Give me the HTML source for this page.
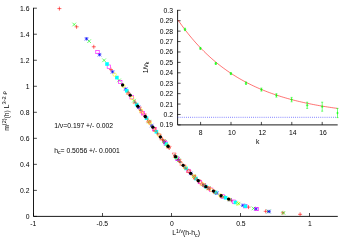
<!DOCTYPE html>
<html><head><meta charset="utf-8"><title>plot</title><style>html,body{margin:0;padding:0;background:#fff}body{width:350px;height:245px;overflow:hidden}</style></head><body>
<svg width="350" height="245" viewBox="0 0 350 245" style="display:block;opacity:0.999;will-change:transform;font-family:'Liberation Sans',sans-serif;font-size:6.8px;fill:#000">
<rect width="350" height="245" fill="#fff"/>
<path d="M33.5 7.799999999999999V216.4H337.8" stroke="#000" stroke-width="0.9" fill="none"/>
<path d="M33.5 216.40h3.4" stroke="#000" stroke-width="0.7"/>
<text x="29.5" y="218.90" text-anchor="end">0</text>
<path d="M33.5 190.38h3.4" stroke="#000" stroke-width="0.7"/>
<text x="29.5" y="192.88" text-anchor="end">0.2</text>
<path d="M33.5 164.35h3.4" stroke="#000" stroke-width="0.7"/>
<text x="29.5" y="166.85" text-anchor="end">0.4</text>
<path d="M33.5 138.32h3.4" stroke="#000" stroke-width="0.7"/>
<text x="29.5" y="140.82" text-anchor="end">0.6</text>
<path d="M33.5 112.30h3.4" stroke="#000" stroke-width="0.7"/>
<text x="29.5" y="114.80" text-anchor="end">0.8</text>
<path d="M33.5 86.28h3.4" stroke="#000" stroke-width="0.7"/>
<text x="29.5" y="88.78" text-anchor="end">1</text>
<path d="M33.5 60.25h3.4" stroke="#000" stroke-width="0.7"/>
<text x="29.5" y="62.75" text-anchor="end">1.2</text>
<path d="M33.5 34.22h3.4" stroke="#000" stroke-width="0.7"/>
<text x="29.5" y="36.72" text-anchor="end">1.4</text>
<path d="M33.5 8.20h3.4" stroke="#000" stroke-width="0.7"/>
<text x="29.5" y="10.70" text-anchor="end">1.6</text>
<path d="M33.50 216.4v-3.4" stroke="#000" stroke-width="0.7"/>
<text x="33.30" y="225.7" text-anchor="middle">-1</text>
<path d="M102.50 216.4v-3.4" stroke="#000" stroke-width="0.7"/>
<text x="102.30" y="225.7" text-anchor="middle">-0.5</text>
<path d="M171.50 216.4v-3.4" stroke="#000" stroke-width="0.7"/>
<text x="171.90" y="225.7" text-anchor="middle">0</text>
<path d="M240.50 216.4v-3.4" stroke="#000" stroke-width="0.7"/>
<text x="240.90" y="225.7" text-anchor="middle">0.5</text>
<path d="M309.50 216.4v-3.4" stroke="#000" stroke-width="0.7"/>
<text x="309.90" y="225.7" text-anchor="middle">1</text>
<text x="172.3" y="235.4">L<tspan dy="-2.6" font-size="5.2px">1/ν</tspan><tspan dy="2.6">(h-h</tspan><tspan dy="1.5" font-size="5.2px">c</tspan><tspan dy="-1.5">)</tspan></text>
<text transform="translate(9.0 130.8) rotate(-90)">m<tspan dy="-3" font-size="5.4px">(2)</tspan><tspan dy="3">(h) L</tspan><tspan dy="-3" font-size="5.8px">3-2 ρ</tspan></text>
<text x="54.2" y="127.5">1/ν=0.197 +/- 0.002</text>
<text x="54.2" y="152.7">h<tspan dy="1.5" font-size="5.2px">c</tspan><tspan dy="-1.5">= 0.5056 +/- 0.0001</tspan></text>
<path d="M57.40 8.60H61.40M59.40 6.60V10.60" stroke="#ff0000" stroke-width="0.6" fill="none"/>
<path d="M74.59 26.80H78.59M76.59 24.80V28.80" stroke="#ff0000" stroke-width="0.6" fill="none"/>
<path d="M91.79 46.79H95.79M93.79 44.79V48.79" stroke="#ff0000" stroke-width="0.6" fill="none"/>
<path d="M108.98 69.64H112.98M110.98 67.64V71.64" stroke="#ff0000" stroke-width="0.6" fill="none"/>
<path d="M126.17 92.72H130.17M128.17 90.72V94.72" stroke="#ff0000" stroke-width="0.6" fill="none"/>
<path d="M143.36 116.55H147.36M145.36 114.55V118.55" stroke="#ff0000" stroke-width="0.6" fill="none"/>
<path d="M160.56 139.59H164.56M162.56 137.59V141.59" stroke="#ff0000" stroke-width="0.6" fill="none"/>
<path d="M177.75 161.48H181.75M179.75 159.48V163.48" stroke="#ff0000" stroke-width="0.6" fill="none"/>
<path d="M194.94 179.54H198.94M196.94 177.54V181.54" stroke="#ff0000" stroke-width="0.6" fill="none"/>
<path d="M212.14 191.45H216.14M214.14 189.45V193.45" stroke="#ff0000" stroke-width="0.6" fill="none"/>
<path d="M229.33 200.43H233.33M231.33 198.43V202.43" stroke="#ff0000" stroke-width="0.6" fill="none"/>
<path d="M246.52 207.12H250.52M248.52 205.12V209.12" stroke="#ff0000" stroke-width="0.6" fill="none"/>
<path d="M263.71 211.31H267.71M265.71 209.31V213.31" stroke="#ff0000" stroke-width="0.6" fill="none"/>
<path d="M280.91 212.85H284.91M282.91 210.85V214.85" stroke="#ff0000" stroke-width="0.6" fill="none"/>
<path d="M298.10 214.30H302.10M300.10 212.30V216.30" stroke="#ff0000" stroke-width="0.6" fill="none"/>
<path d="M72.40 22.70L76.00 26.30M72.40 26.30L76.00 22.70" stroke="#00ff00" stroke-width="0.6" fill="none"/>
<path d="M87.34 39.37L90.94 42.97M87.34 42.97L90.94 39.37" stroke="#00ff00" stroke-width="0.6" fill="none"/>
<path d="M102.29 58.51L105.89 62.11M102.29 62.11L105.89 58.51" stroke="#00ff00" stroke-width="0.6" fill="none"/>
<path d="M117.23 78.59L120.83 82.19M117.23 82.19L120.83 78.59" stroke="#00ff00" stroke-width="0.6" fill="none"/>
<path d="M132.17 98.89L135.77 102.49M132.17 102.49L135.77 98.89" stroke="#00ff00" stroke-width="0.6" fill="none"/>
<path d="M147.11 119.82L150.71 123.42M147.11 123.42L150.71 119.82" stroke="#00ff00" stroke-width="0.6" fill="none"/>
<path d="M162.06 139.38L165.66 142.98M162.06 142.98L165.66 139.38" stroke="#00ff00" stroke-width="0.6" fill="none"/>
<path d="M177.00 158.59L180.60 162.19M177.00 162.19L180.60 158.59" stroke="#00ff00" stroke-width="0.6" fill="none"/>
<path d="M191.94 174.54L195.54 178.14M191.94 178.14L195.54 174.54" stroke="#00ff00" stroke-width="0.6" fill="none"/>
<path d="M206.89 186.51L210.49 190.11M206.89 190.11L210.49 186.51" stroke="#00ff00" stroke-width="0.6" fill="none"/>
<path d="M221.83 195.09L225.43 198.69M221.83 198.69L225.43 195.09" stroke="#00ff00" stroke-width="0.6" fill="none"/>
<path d="M236.77 201.89L240.37 205.49M236.77 205.49L240.37 201.89" stroke="#00ff00" stroke-width="0.6" fill="none"/>
<path d="M251.71 206.62L255.31 210.22M251.71 210.22L255.31 206.62" stroke="#00ff00" stroke-width="0.6" fill="none"/>
<path d="M266.66 209.67L270.26 213.27M266.66 213.27L270.26 209.67" stroke="#00ff00" stroke-width="0.6" fill="none"/>
<path d="M281.60 211.10L285.20 214.70M281.60 214.70L285.20 211.10" stroke="#00ff00" stroke-width="0.6" fill="none"/>
<path d="M84.75 38.80H88.25M86.50 37.05V40.55M84.75 37.05L88.25 40.55M84.75 40.55L88.25 37.05" stroke="#0000ff" stroke-width="0.6" fill="none"/>
<path d="M97.79 54.68H101.29M99.54 52.93V56.43M97.79 52.93L101.29 56.43M97.79 56.43L101.29 52.93" stroke="#0000ff" stroke-width="0.6" fill="none"/>
<path d="M110.82 71.87H114.32M112.57 70.12V73.62M110.82 70.12L114.32 73.62M110.82 73.62L114.32 70.12" stroke="#0000ff" stroke-width="0.6" fill="none"/>
<path d="M123.86 89.09H127.36M125.61 87.34V90.84M123.86 87.34L127.36 90.84M123.86 90.84L127.36 87.34" stroke="#0000ff" stroke-width="0.6" fill="none"/>
<path d="M136.89 107.37H140.39M138.64 105.62V109.12M136.89 105.62L140.39 109.12M136.89 109.12L140.39 105.62" stroke="#0000ff" stroke-width="0.6" fill="none"/>
<path d="M149.93 125.57H153.43M151.68 123.82V127.32M149.93 123.82L153.43 127.32M149.93 127.32L153.43 123.82" stroke="#0000ff" stroke-width="0.6" fill="none"/>
<path d="M162.96 142.22H166.46M164.71 140.47V143.97M162.96 140.47L166.46 143.97M162.96 143.97L166.46 140.47" stroke="#0000ff" stroke-width="0.6" fill="none"/>
<path d="M176.00 159.19H179.50M177.75 157.44V160.94M176.00 157.44L179.50 160.94M176.00 160.94L179.50 157.44" stroke="#0000ff" stroke-width="0.6" fill="none"/>
<path d="M189.04 173.39H192.54M190.79 171.64V175.14M189.04 171.64L192.54 175.14M189.04 175.14L192.54 171.64" stroke="#0000ff" stroke-width="0.6" fill="none"/>
<path d="M202.07 185.24H205.57M203.82 183.49V186.99M202.07 183.49L205.57 186.99M202.07 186.99L205.57 183.49" stroke="#0000ff" stroke-width="0.6" fill="none"/>
<path d="M215.11 193.17H218.61M216.86 191.42V194.92M215.11 191.42L218.61 194.92M215.11 194.92L218.61 191.42" stroke="#0000ff" stroke-width="0.6" fill="none"/>
<path d="M228.14 199.73H231.64M229.89 197.98V201.48M228.14 197.98L231.64 201.48M228.14 201.48L231.64 197.98" stroke="#0000ff" stroke-width="0.6" fill="none"/>
<path d="M241.18 205.31H244.68M242.93 203.56V207.06M241.18 203.56L244.68 207.06M241.18 207.06L244.68 203.56" stroke="#0000ff" stroke-width="0.6" fill="none"/>
<path d="M254.21 208.88H257.71M255.96 207.13V210.63M254.21 207.13L257.71 210.63M254.21 210.63L257.71 207.13" stroke="#0000ff" stroke-width="0.6" fill="none"/>
<path d="M267.25 211.50H270.75M269.00 209.75V213.25M267.25 209.75L270.75 213.25M267.25 213.25L270.75 209.75" stroke="#0000ff" stroke-width="0.6" fill="none"/>
<rect x="95.80" y="50.30" width="3.40" height="3.40" stroke="#ff00ff" stroke-width="0.6" fill="none"/>
<rect x="107.17" y="64.97" width="3.40" height="3.40" stroke="#ff00ff" stroke-width="0.6" fill="none"/>
<rect x="118.54" y="80.28" width="3.40" height="3.40" stroke="#ff00ff" stroke-width="0.6" fill="none"/>
<rect x="129.91" y="95.55" width="3.40" height="3.40" stroke="#ff00ff" stroke-width="0.6" fill="none"/>
<rect x="141.29" y="111.60" width="3.40" height="3.40" stroke="#ff00ff" stroke-width="0.6" fill="none"/>
<rect x="152.66" y="127.43" width="3.40" height="3.40" stroke="#ff00ff" stroke-width="0.6" fill="none"/>
<rect x="164.03" y="141.76" width="3.40" height="3.40" stroke="#ff00ff" stroke-width="0.6" fill="none"/>
<rect x="175.40" y="156.75" width="3.40" height="3.40" stroke="#ff00ff" stroke-width="0.6" fill="none"/>
<rect x="186.77" y="169.26" width="3.40" height="3.40" stroke="#ff00ff" stroke-width="0.6" fill="none"/>
<rect x="198.14" y="180.32" width="3.40" height="3.40" stroke="#ff00ff" stroke-width="0.6" fill="none"/>
<rect x="209.51" y="188.06" width="3.40" height="3.40" stroke="#ff00ff" stroke-width="0.6" fill="none"/>
<rect x="220.89" y="194.73" width="3.40" height="3.40" stroke="#ff00ff" stroke-width="0.6" fill="none"/>
<rect x="232.26" y="200.01" width="3.40" height="3.40" stroke="#ff00ff" stroke-width="0.6" fill="none"/>
<rect x="243.63" y="204.51" width="3.40" height="3.40" stroke="#ff00ff" stroke-width="0.6" fill="none"/>
<rect x="255.00" y="207.30" width="3.40" height="3.40" stroke="#ff00ff" stroke-width="0.6" fill="none"/>
<rect x="105.20" y="62.20" width="3.60" height="3.60" fill="#00ffff"/>
<rect x="115.08" y="75.77" width="3.60" height="3.60" fill="#00ffff"/>
<rect x="124.96" y="88.97" width="3.60" height="3.60" fill="#00ffff"/>
<rect x="134.84" y="102.78" width="3.60" height="3.60" fill="#00ffff"/>
<rect x="144.71" y="116.39" width="3.60" height="3.60" fill="#00ffff"/>
<rect x="154.59" y="129.96" width="3.60" height="3.60" fill="#00ffff"/>
<rect x="164.47" y="142.32" width="3.60" height="3.60" fill="#00ffff"/>
<rect x="174.35" y="155.56" width="3.60" height="3.60" fill="#00ffff"/>
<rect x="184.23" y="166.59" width="3.60" height="3.60" fill="#00ffff"/>
<rect x="194.11" y="176.71" width="3.60" height="3.60" fill="#00ffff"/>
<rect x="203.99" y="184.85" width="3.60" height="3.60" fill="#00ffff"/>
<rect x="213.86" y="190.62" width="3.60" height="3.60" fill="#00ffff"/>
<rect x="223.74" y="195.94" width="3.60" height="3.60" fill="#00ffff"/>
<rect x="233.62" y="200.62" width="3.60" height="3.60" fill="#00ffff"/>
<rect x="243.50" y="204.40" width="3.60" height="3.60" fill="#00ffff"/>
<circle cx="114.60" cy="74.60" r="1.70" stroke="#ffff00" stroke-width="0.6" fill="none"/>
<circle cx="123.41" cy="86.02" r="1.70" stroke="#ffff00" stroke-width="0.6" fill="none"/>
<circle cx="132.22" cy="98.12" r="1.70" stroke="#ffff00" stroke-width="0.6" fill="none"/>
<circle cx="141.02" cy="110.62" r="1.70" stroke="#ffff00" stroke-width="0.6" fill="none"/>
<circle cx="149.83" cy="122.93" r="1.70" stroke="#ffff00" stroke-width="0.6" fill="none"/>
<circle cx="158.64" cy="134.67" r="1.70" stroke="#ffff00" stroke-width="0.6" fill="none"/>
<circle cx="167.45" cy="145.56" r="1.70" stroke="#ffff00" stroke-width="0.6" fill="none"/>
<circle cx="176.26" cy="157.48" r="1.70" stroke="#ffff00" stroke-width="0.6" fill="none"/>
<circle cx="185.06" cy="167.37" r="1.70" stroke="#ffff00" stroke-width="0.6" fill="none"/>
<circle cx="193.87" cy="176.47" r="1.70" stroke="#ffff00" stroke-width="0.6" fill="none"/>
<circle cx="202.68" cy="184.32" r="1.70" stroke="#ffff00" stroke-width="0.6" fill="none"/>
<circle cx="211.49" cy="189.92" r="1.70" stroke="#ffff00" stroke-width="0.6" fill="none"/>
<circle cx="220.30" cy="195.34" r="1.70" stroke="#ffff00" stroke-width="0.6" fill="none"/>
<circle cx="229.10" cy="199.34" r="1.70" stroke="#ffff00" stroke-width="0.6" fill="none"/>
<circle cx="237.91" cy="203.44" r="1.70" stroke="#ffff00" stroke-width="0.6" fill="none"/>
<path d="M128.30 90.74L130.28 94.34H126.32Z" stroke="#ff4d00" stroke-width="0.45" fill="none"/>
<path d="M134.99 100.01L136.97 103.61H133.01Z" stroke="#ff4d00" stroke-width="0.45" fill="none"/>
<path d="M141.67 109.35L143.65 112.95H139.69Z" stroke="#ff4d00" stroke-width="0.45" fill="none"/>
<path d="M148.36 118.67L150.34 122.27H146.38Z" stroke="#ff4d00" stroke-width="0.45" fill="none"/>
<path d="M155.05 127.86L157.03 131.46H153.07Z" stroke="#ff4d00" stroke-width="0.45" fill="none"/>
<path d="M161.74 136.43L163.72 140.03H159.76Z" stroke="#ff4d00" stroke-width="0.45" fill="none"/>
<path d="M168.42 144.59L170.40 148.19H166.44Z" stroke="#ff4d00" stroke-width="0.45" fill="none"/>
<path d="M175.11 153.85L177.09 157.45H173.13Z" stroke="#ff4d00" stroke-width="0.45" fill="none"/>
<path d="M181.80 161.66L183.78 165.26H179.82Z" stroke="#ff4d00" stroke-width="0.45" fill="none"/>
<path d="M188.49 168.81L190.47 172.41H186.51Z" stroke="#ff4d00" stroke-width="0.45" fill="none"/>
<path d="M195.17 175.61L197.15 179.21H193.19Z" stroke="#ff4d00" stroke-width="0.45" fill="none"/>
<path d="M201.86 181.49L203.84 185.09H199.88Z" stroke="#ff4d00" stroke-width="0.45" fill="none"/>
<path d="M208.55 186.07L210.53 189.67H206.57Z" stroke="#ff4d00" stroke-width="0.45" fill="none"/>
<path d="M215.23 189.98L217.21 193.58H213.25Z" stroke="#ff4d00" stroke-width="0.45" fill="none"/>
<path d="M221.92 193.98L223.90 197.58H219.94Z" stroke="#ff4d00" stroke-width="0.45" fill="none"/>
<path d="M134.90 100.48L136.33 103.08H133.47Z" fill="#808080"/>
<path d="M140.57 108.44L142.00 111.04H139.14Z" fill="#808080"/>
<path d="M146.23 116.23L147.66 118.83H144.80Z" fill="#808080"/>
<path d="M151.90 124.32L153.33 126.92H150.47Z" fill="#808080"/>
<path d="M157.56 131.71L158.99 134.31H156.13Z" fill="#808080"/>
<path d="M163.23 138.85L164.66 141.45H161.80Z" fill="#808080"/>
<path d="M168.89 145.77L170.32 148.37H167.46Z" fill="#808080"/>
<path d="M174.56 153.52L175.99 156.12H173.13Z" fill="#808080"/>
<path d="M180.23 160.46L181.66 163.06H178.80Z" fill="#808080"/>
<path d="M185.89 166.68L187.32 169.28H184.46Z" fill="#808080"/>
<path d="M191.56 172.60L192.99 175.20H190.13Z" fill="#808080"/>
<path d="M197.22 178.26L198.65 180.86H195.79Z" fill="#808080"/>
<path d="M202.89 182.93L204.32 185.53H201.46Z" fill="#808080"/>
<path d="M208.55 186.68L209.98 189.28H207.12Z" fill="#808080"/>
<path d="M214.22 189.94L215.65 192.54H212.79Z" fill="#808080"/>
<path d="M139.40 110.56L141.38 106.96H137.42Z" stroke="#ff0000" stroke-width="0.42" fill="none"/>
<path d="M144.37 117.35L146.35 113.75H142.39Z" stroke="#ff0000" stroke-width="0.42" fill="none"/>
<path d="M149.34 124.39L151.32 120.79H147.36Z" stroke="#ff0000" stroke-width="0.42" fill="none"/>
<path d="M154.31 131.23L156.29 127.63H152.33Z" stroke="#ff0000" stroke-width="0.42" fill="none"/>
<path d="M159.28 137.65L161.26 134.05H157.30Z" stroke="#ff0000" stroke-width="0.42" fill="none"/>
<path d="M164.25 143.81L166.23 140.21H162.27Z" stroke="#ff0000" stroke-width="0.42" fill="none"/>
<path d="M169.21 149.88L171.19 146.28H167.23Z" stroke="#ff0000" stroke-width="0.42" fill="none"/>
<path d="M174.18 156.61L176.16 153.01H172.20Z" stroke="#ff0000" stroke-width="0.42" fill="none"/>
<path d="M179.15 162.96L181.13 159.36H177.17Z" stroke="#ff0000" stroke-width="0.42" fill="none"/>
<path d="M184.12 168.54L186.10 164.94H182.14Z" stroke="#ff0000" stroke-width="0.42" fill="none"/>
<path d="M189.09 173.77L191.07 170.17H187.11Z" stroke="#ff0000" stroke-width="0.42" fill="none"/>
<path d="M194.06 178.82L196.04 175.22H192.08Z" stroke="#ff0000" stroke-width="0.42" fill="none"/>
<path d="M199.03 183.52L201.01 179.92H197.05Z" stroke="#ff0000" stroke-width="0.42" fill="none"/>
<path d="M204.00 187.55L205.98 183.95H202.02Z" stroke="#ff0000" stroke-width="0.42" fill="none"/>
<path d="M208.97 190.63L210.95 187.03H206.99Z" stroke="#ff0000" stroke-width="0.42" fill="none"/>
<circle cx="122.60" cy="85.00" r="1.65" fill="#000000"/>
<circle cx="130.17" cy="95.21" r="1.65" fill="#000000"/>
<circle cx="137.74" cy="106.14" r="1.65" fill="#000000"/>
<circle cx="145.31" cy="116.48" r="1.65" fill="#000000"/>
<circle cx="152.88" cy="127.22" r="1.65" fill="#000000"/>
<circle cx="160.45" cy="137.00" r="1.65" fill="#000000"/>
<circle cx="168.02" cy="146.26" r="1.65" fill="#000000"/>
<circle cx="175.59" cy="156.71" r="1.65" fill="#000000"/>
<circle cx="183.16" cy="165.37" r="1.65" fill="#000000"/>
<circle cx="190.73" cy="173.33" r="1.65" fill="#000000"/>
<circle cx="198.30" cy="180.76" r="1.65" fill="#000000"/>
<circle cx="205.87" cy="186.70" r="1.65" fill="#000000"/>
<circle cx="213.44" cy="191.03" r="1.65" fill="#000000"/>
<circle cx="221.01" cy="195.73" r="1.65" fill="#000000"/>
<circle cx="228.58" cy="199.09" r="1.65" fill="#000000"/>
<path d="M177.6 9.9V124.9H337.7" stroke="#000" stroke-width="0.9" fill="none"/>
<path d="M177.6 124.90h3" stroke="#000" stroke-width="0.7"/>
<text x="173" y="127.40" text-anchor="end">0.19</text>
<path d="M177.6 114.48h3" stroke="#000" stroke-width="0.7"/>
<text x="173" y="116.98" text-anchor="end">0.2</text>
<path d="M177.6 104.06h3" stroke="#000" stroke-width="0.7"/>
<text x="173" y="106.56" text-anchor="end">0.21</text>
<path d="M177.6 93.65h3" stroke="#000" stroke-width="0.7"/>
<text x="173" y="96.15" text-anchor="end">0.22</text>
<path d="M177.6 83.23h3" stroke="#000" stroke-width="0.7"/>
<text x="173" y="85.73" text-anchor="end">0.23</text>
<path d="M177.6 72.81h3" stroke="#000" stroke-width="0.7"/>
<text x="173" y="75.31" text-anchor="end">0.24</text>
<path d="M177.6 62.39h3" stroke="#000" stroke-width="0.7"/>
<text x="173" y="64.89" text-anchor="end">0.25</text>
<path d="M177.6 51.97h3" stroke="#000" stroke-width="0.7"/>
<text x="173" y="54.47" text-anchor="end">0.26</text>
<path d="M177.6 41.55h3" stroke="#000" stroke-width="0.7"/>
<text x="173" y="44.05" text-anchor="end">0.27</text>
<path d="M177.6 31.14h3" stroke="#000" stroke-width="0.7"/>
<text x="173" y="33.64" text-anchor="end">0.28</text>
<path d="M177.6 20.72h3" stroke="#000" stroke-width="0.7"/>
<text x="173" y="23.22" text-anchor="end">0.29</text>
<path d="M177.6 10.30h3" stroke="#000" stroke-width="0.7"/>
<text x="173" y="12.80" text-anchor="end">0.3</text>
<path d="M200.60 124.9v-3" stroke="#000" stroke-width="0.7"/>
<text x="200.60" y="134.8" text-anchor="middle">8</text>
<path d="M231.00 124.9v-3" stroke="#000" stroke-width="0.7"/>
<text x="231.90" y="134.8" text-anchor="middle">10</text>
<path d="M261.40 124.9v-3" stroke="#000" stroke-width="0.7"/>
<text x="262.30" y="134.8" text-anchor="middle">12</text>
<path d="M291.80 124.9v-3" stroke="#000" stroke-width="0.7"/>
<text x="292.70" y="134.8" text-anchor="middle">14</text>
<path d="M322.20 124.9v-3" stroke="#000" stroke-width="0.7"/>
<text x="323.10" y="134.8" text-anchor="middle">16</text>
<text x="257.6" y="144.4" text-anchor="middle">k</text>
<text transform="translate(147.6 73.3) rotate(-90)">1/ν<tspan dy="1.6" font-size="5.2px">k</tspan></text>
<path d="M177.6 117.3H337.5" stroke="#0000ff" stroke-width="0.6" stroke-dasharray="0.8 1.3" fill="none"/>
<path d="M178.00 20.00L179.99 22.87L181.99 25.65L183.98 28.35L185.97 30.97L187.97 33.51L189.96 35.98L191.96 38.38L193.95 40.70L195.94 42.96L197.94 45.15L199.93 47.28L201.93 49.34L203.92 51.34L205.91 53.29L207.91 55.17L209.90 57.00L211.89 58.78L213.89 60.50L215.88 62.18L217.88 63.80L219.87 65.38L221.86 66.91L223.86 68.39L225.85 69.83L227.84 71.23L229.84 72.59L231.83 73.91L233.82 75.18L235.82 76.43L237.81 77.63L239.81 78.80L241.80 79.93L243.79 81.03L245.79 82.10L247.78 83.14L249.78 84.15L251.77 85.12L253.76 86.07L255.76 86.99L257.75 87.88L259.74 88.75L261.74 89.59L263.73 90.41L265.73 91.20L267.72 91.97L269.71 92.72L271.71 93.44L273.70 94.14L275.69 94.83L277.69 95.49L279.68 96.13L281.68 96.75L283.67 97.36L285.66 97.95L287.66 98.52L289.65 99.07L291.64 99.61L293.64 100.13L295.63 100.63L297.62 101.13L299.62 101.60L301.61 102.06L303.61 102.51L305.60 102.95L307.59 103.37L309.59 103.78L311.58 104.18L313.57 104.57L315.57 104.94L317.56 105.31L319.56 105.66L321.55 106.00L323.54 106.34L325.54 106.66L327.53 106.97L329.52 107.28L331.52 107.57L333.51 107.86L335.51 108.14L337.50 108.41" stroke="#ff0000" stroke-width="0.55" fill="none"/>
<path d="M185.00 28.20V30.60M184.00 28.20h2M184.00 30.60h2M183.70 29.40h2.6M185.00 28.10v2.6" stroke="#00ff00" stroke-width="0.55" fill="none"/>
<path d="M200.40 47.40V49.40M199.40 47.40h2M199.40 49.40h2M199.10 48.40h2.6M200.40 47.10v2.6" stroke="#00ff00" stroke-width="0.55" fill="none"/>
<path d="M215.80 62.50V64.50M214.80 62.50h2M214.80 64.50h2M214.50 63.50h2.6M215.80 62.20v2.6" stroke="#00ff00" stroke-width="0.55" fill="none"/>
<path d="M230.90 72.60V74.60M229.90 72.60h2M229.90 74.60h2M229.60 73.60h2.6M230.90 72.30v2.6" stroke="#00ff00" stroke-width="0.55" fill="none"/>
<path d="M246.00 82.00V84.40M245.00 82.00h2M245.00 84.40h2M244.70 83.20h2.6M246.00 81.90v2.6" stroke="#00ff00" stroke-width="0.55" fill="none"/>
<path d="M261.40 88.10V91.10M260.40 88.10h2M260.40 91.10h2M260.10 89.60h2.6M261.40 88.30v2.6" stroke="#00ff00" stroke-width="0.55" fill="none"/>
<path d="M276.40 93.70V97.10M275.40 93.70h2M275.40 97.10h2M275.10 95.40h2.6M276.40 94.10v2.6" stroke="#00ff00" stroke-width="0.55" fill="none"/>
<path d="M291.60 97.40V101.80M290.60 97.40h2M290.60 101.80h2M290.30 99.60h2.6M291.60 98.30v2.6" stroke="#00ff00" stroke-width="0.55" fill="none"/>
<path d="M307.20 102.20V108.40M306.20 102.20h2M306.20 108.40h2M305.90 105.30h2.6M307.20 104.00v2.6" stroke="#00ff00" stroke-width="0.55" fill="none"/>
<path d="M322.20 102.20V111.20M321.20 102.20h2M321.20 111.20h2M320.90 106.70h2.6M322.20 105.40v2.6" stroke="#00ff00" stroke-width="0.55" fill="none"/>
<path d="M337.50 108.40V117.60M336.50 108.40h2M336.50 117.60h2M336.20 113.00h2.6M337.50 111.70v2.6" stroke="#00ff00" stroke-width="0.55" fill="none"/>
</svg>
</body></html>
